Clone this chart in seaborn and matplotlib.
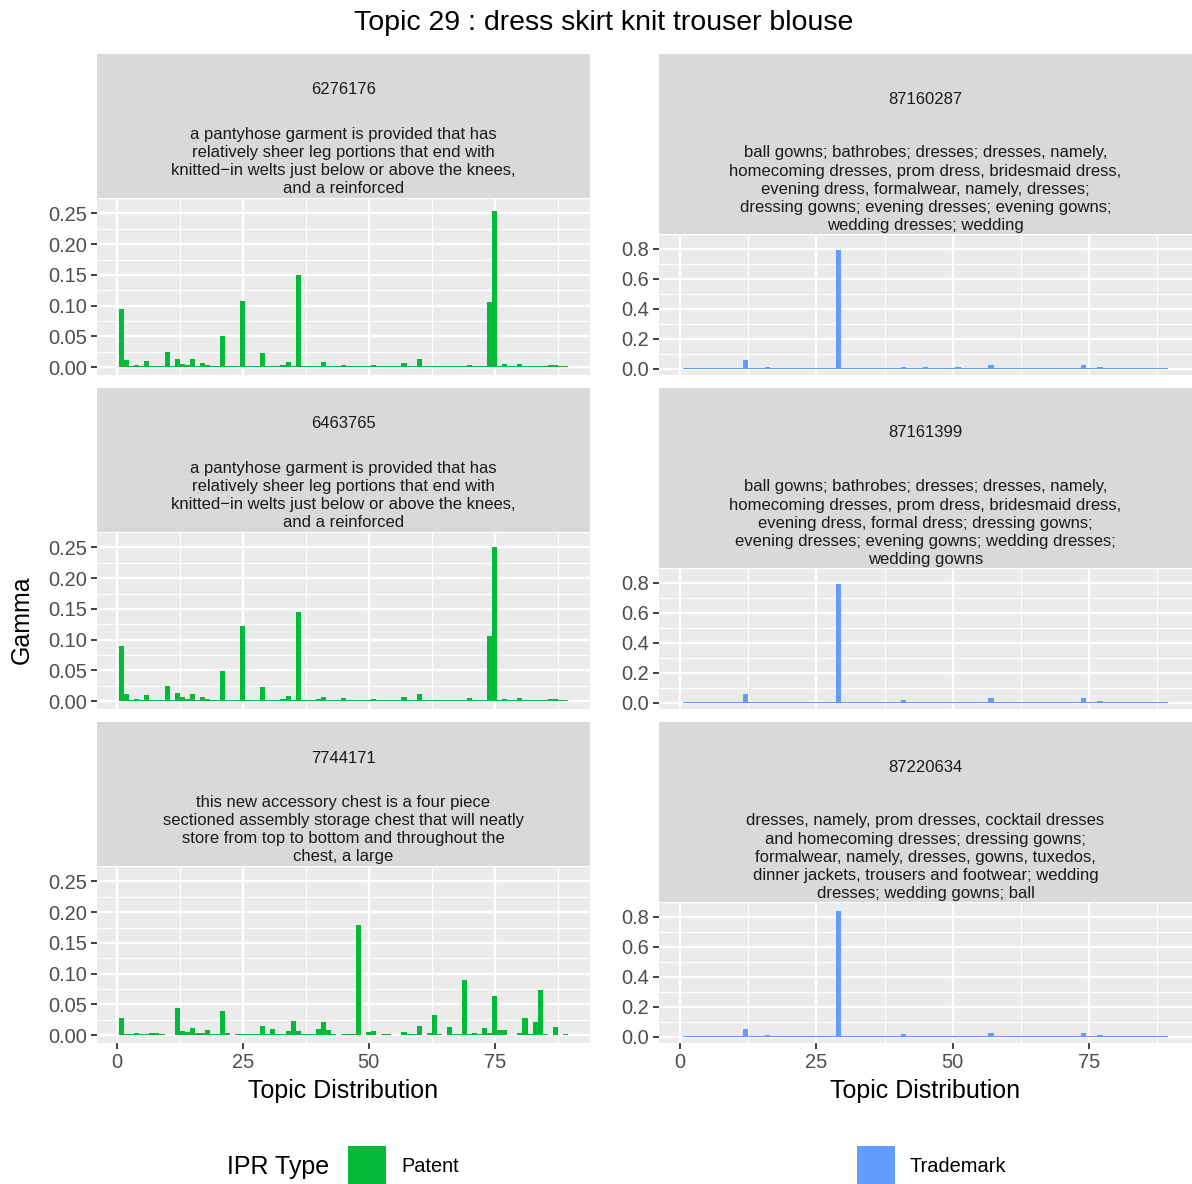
import numpy as np
import pandas as pd
import matplotlib
matplotlib.use('Agg')
import matplotlib.pyplot as plt
from matplotlib.patches import Rectangle
from matplotlib.ticker import FormatStrFormatter
import seaborn as sns

# topic ids 1..89
topics = list(range(1, 90))

# patent 6276176
gamma_6276176 = [
    0.094, 0.012, 0.0012, 0.004, 0.0012, 0.0105, 0.0012, 0.0012, 0.0012, 0.0246,
    0.0012, 0.0136, 0.0058, 0.004, 0.0136, 0.0012, 0.0073, 0.004, 0.0012, 0.0012,
    0.0513, 0.0026, 0.0012, 0.0012, 0.108, 0.0012, 0.0012, 0.0026, 0.023, 0.0012,
    0.0012, 0.0012, 0.004, 0.009, 0.0012, 0.150, 0.0026, 0.0026, 0.0012, 0.0026,
    0.009, 0.0012, 0.0012, 0.0012, 0.004, 0.0012, 0.0012, 0.0012, 0.0012, 0.0012,
    0.004, 0.0012, 0.0012, 0.0012, 0.0012, 0.0012, 0.0073, 0.0012, 0.0012, 0.0136,
    0.0012, 0.0012, 0.0026, 0.0012, 0.0012, 0.0012, 0.0026, 0.0012, 0.0012, 0.004,
    0.0026, 0.0012, 0.0012, 0.106, 0.254, 0.0012, 0.0058, 0.0012, 0.0012, 0.0058,
    0.0012, 0.0012, 0.0026, 0.0012, 0.0012, 0.004, 0.004, 0.0012, 0.0012]

# patent 6463765
gamma_6463765 = [
    0.090, 0.0115, 0.0012, 0.0037, 0.0012, 0.010, 0.0012, 0.0012, 0.0012, 0.024,
    0.0012, 0.013, 0.0068, 0.0037, 0.0115, 0.0012, 0.0068, 0.0037, 0.0012, 0.0012,
    0.049, 0.002, 0.0012, 0.0012, 0.123, 0.0012, 0.0012, 0.002, 0.0225, 0.0012,
    0.0012, 0.0012, 0.0037, 0.0084, 0.0012, 0.145, 0.002, 0.002, 0.0012, 0.0037,
    0.0068, 0.0012, 0.0012, 0.0012, 0.0052, 0.0012, 0.0012, 0.0012, 0.0012, 0.0012,
    0.0037, 0.0012, 0.0012, 0.0012, 0.0012, 0.0012, 0.0068, 0.0012, 0.0012, 0.0115,
    0.0012, 0.0012, 0.002, 0.0012, 0.0012, 0.0012, 0.002, 0.0012, 0.0012, 0.0052,
    0.002, 0.0012, 0.0012, 0.106, 0.250, 0.0012, 0.0037, 0.0012, 0.0012, 0.0052,
    0.0012, 0.0012, 0.002, 0.0012, 0.0012, 0.0037, 0.0037, 0.0012, 0.0012]

# patent 7744171
gamma_7744171 = [
    0.028, 0.0026, 0.0012, 0.004, 0.0026, 0.0026, 0.004, 0.004, 0.0012, 0.0008,
    0.0008, 0.0435, 0.0073, 0.0058, 0.012, 0.004, 0.004, 0.0089, 0.0012, 0.0026,
    0.0388, 0.004, 0.0008, 0.0012, 0.0026, 0.0012, 0.0012, 0.0012, 0.015, 0.0012,
    0.0105, 0.0012, 0.0026, 0.0073, 0.023, 0.0073, 0.0026, 0.0012, 0.0026, 0.0105,
    0.0215, 0.0089, 0.0012, 0.0008, 0.0026, 0.0012, 0.0026, 0.179, 0.0008, 0.0058,
    0.0073, 0.0008, 0.0026, 0.0012, 0.0008, 0.0008, 0.0058, 0.0026, 0.0012, 0.015,
    0.0008, 0.004, 0.0325, 0.0012, 0.0008, 0.0136, 0.0012, 0.0026, 0.089, 0.0026,
    0.004, 0.0012, 0.012, 0.004, 0.064, 0.0089, 0.0089, 0.0008, 0.0008, 0.004,
    0.028, 0.0012, 0.0215, 0.073, 0.0026, 0.0008, 0.0136, 0.0008, 0.0026]

# trademark 87160287
gamma_87160287 = [
    0.003, 0.003, 0.003, 0.003, 0.003, 0.003, 0.003, 0.003, 0.003, 0.003,
    0.003, 0.059, 0.003, 0.003, 0.003, 0.009, 0.006, 0.003, 0.003, 0.003,
    0.003, 0.003, 0.003, 0.003, 0.003, 0.003, 0.003, 0.003, 0.794, 0.003,
    0.003, 0.003, 0.003, 0.003, 0.003, 0.003, 0.003, 0.003, 0.003, 0.003,
    0.013, 0.003, 0.003, 0.003, 0.009, 0.003, 0.003, 0.003, 0.003, 0.003,
    0.009, 0.003, 0.003, 0.003, 0.003, 0.003, 0.026, 0.003, 0.003, 0.003,
    0.003, 0.003, 0.003, 0.003, 0.003, 0.003, 0.003, 0.003, 0.003, 0.003,
    0.003, 0.003, 0.003, 0.026, 0.003, 0.003, 0.009, 0.003, 0.003, 0.003,
    0.003, 0.003, 0.003, 0.003, 0.003, 0.003, 0.003, 0.003, 0.003]

# trademark 87161399
gamma_87161399 = [
    0.003, 0.003, 0.003, 0.003, 0.003, 0.006, 0.003, 0.003, 0.003, 0.003,
    0.003, 0.059, 0.003, 0.003, 0.003, 0.006, 0.006, 0.003, 0.003, 0.003,
    0.003, 0.003, 0.003, 0.003, 0.003, 0.003, 0.003, 0.006, 0.794, 0.003,
    0.003, 0.003, 0.003, 0.003, 0.003, 0.003, 0.003, 0.003, 0.003, 0.003,
    0.0195, 0.003, 0.003, 0.003, 0.006, 0.003, 0.003, 0.003, 0.003, 0.003,
    0.006, 0.003, 0.003, 0.003, 0.003, 0.003, 0.0325, 0.003, 0.003, 0.003,
    0.003, 0.003, 0.003, 0.003, 0.003, 0.003, 0.003, 0.003, 0.003, 0.003,
    0.003, 0.003, 0.003, 0.0325, 0.003, 0.003, 0.013, 0.003, 0.003, 0.003,
    0.003, 0.003, 0.003, 0.003, 0.003, 0.003, 0.003, 0.003, 0.003]

# trademark 87220634
gamma_87220634 = [
    0.003, 0.006, 0.003, 0.006, 0.003, 0.003, 0.006, 0.003, 0.006, 0.006,
    0.003, 0.052, 0.003, 0.003, 0.003, 0.013, 0.003, 0.003, 0.003, 0.003,
    0.006, 0.003, 0.003, 0.006, 0.003, 0.003, 0.006, 0.006, 0.840, 0.003,
    0.003, 0.003, 0.003, 0.003, 0.003, 0.003, 0.003, 0.006, 0.003, 0.006,
    0.0195, 0.003, 0.003, 0.003, 0.006, 0.003, 0.003, 0.003, 0.003, 0.003,
    0.006, 0.003, 0.003, 0.003, 0.003, 0.003, 0.026, 0.003, 0.003, 0.006,
    0.003, 0.006, 0.003, 0.003, 0.003, 0.006, 0.003, 0.003, 0.003, 0.003,
    0.003, 0.006, 0.003, 0.026, 0.003, 0.003, 0.013, 0.003, 0.003, 0.003,
    0.003, 0.003, 0.003, 0.006, 0.003, 0.003, 0.003, 0.006, 0.003]

patent_ids = ['6276176', '6463765', '7744171']
patent_text = [
    ['a pantyhose garment is provided that has',
     'relatively sheer leg portions that end with',
     'knitted\u2212in welts just below or above the knees,',
     'and a reinforced'],
    ['a pantyhose garment is provided that has',
     'relatively sheer leg portions that end with',
     'knitted\u2212in welts just below or above the knees,',
     'and a reinforced'],
    ['this new accessory chest is a four piece',
     'sectioned assembly storage chest that will neatly',
     'store from top to bottom and throughout the',
     'chest, a large'],
]
trademark_ids = ['87160287', '87161399', '87220634']
trademark_text = [
    ['ball gowns; bathrobes; dresses; dresses, namely,',
     'homecoming dresses, prom dress, bridesmaid dress,',
     'evening dress, formalwear, namely, dresses;',
     'dressing gowns; evening dresses; evening gowns;',
     'wedding dresses; wedding'],
    ['ball gowns; bathrobes; dresses; dresses, namely,',
     'homecoming dresses, prom dress, bridesmaid dress,',
     'evening dress, formal dress; dressing gowns;',
     'evening dresses; evening gowns; wedding dresses;',
     'wedding gowns'],
    ['dresses, namely, prom dresses, cocktail dresses',
     'and homecoming dresses; dressing gowns;',
     'formalwear, namely, dresses, gowns, tuxedos,',
     'dinner jackets, trousers and footwear; wedding',
     'dresses; wedding gowns; ball'],
]
patent_series = [gamma_6276176, gamma_6463765, gamma_7744171]
trademark_series = [gamma_87160287, gamma_87161399, gamma_87220634]

patent_color = '#00BA38'
trademark_color = '#619CFF'

sns.set_theme(style='darkgrid', rc={
    'axes.facecolor': '#EBEBEB',
    'grid.color': 'white',
    'xtick.bottom': True,
    'ytick.left': True,
})
plt.rcParams['font.family'] = ['Liberation Sans', 'DejaVu Sans']

W, H = 1192, 1184
fig = plt.figure(figsize=(W / 100, H / 100), dpi=100)
fig.patch.set_facecolor('white')


def box(x0, y0, x1, y1):
    # pixel box (top-left origin) -> figure fraction rect
    return [x0 / W, 1 - y1 / H, (x1 - x0) / W, (y1 - y0) / H]


rows_y = [54, 388, 722]


def draw_column(series, ids, texts, color, x0, x1, strip_h, yticks, yfmt,
                id_off, body_off):
    ymax = max(max(s) for s in series)
    for r, (vals, pid, lines) in enumerate(zip(series, ids, texts)):
        top = rows_y[r]
        strip_bot = top + strip_h
        plot_bot = top + 321
        ax = fig.add_axes(box(x0, strip_bot, x1, plot_bot))
        df = pd.DataFrame({'topic': topics, 'gamma': vals})
        sns.barplot(data=df, x='topic', y='gamma', native_scale=True,
                    width=1.0, color=color, saturation=1, linewidth=0, ax=ax)
        ax.set_xlim(0.55 - 0.05 * 88.9, 89.45 + 0.05 * 88.9)
        ax.set_ylim(-0.05 * ymax, 1.05 * ymax)
        ax.set_xticks([0, 25, 50, 75])
        ax.set_xticks([12.5, 37.5, 62.5, 87.5], minor=True)
        ax.set_yticks(yticks)
        step = yticks[1] - yticks[0]
        ax.set_yticks([t + step / 2 for t in yticks], minor=True)
        ax.yaxis.set_major_formatter(FormatStrFormatter(yfmt))
        ax.grid(which='major', color='white', lw=1.7)
        ax.grid(which='minor', color='white', lw=0.8)
        ax.set_axisbelow(True)
        for s in ax.spines.values():
            s.set_visible(False)
        ax.tick_params(which='major', length=4.3, width=1.3, color='#333333',
                       labelsize=14.4, labelcolor='#4D4D4D', pad=3)
        ax.tick_params(which='minor', length=0)
        if r < 2:
            ax.tick_params(axis='x', which='both', bottom=False, labelbottom=False)
        ax.set_xlabel('')
        ax.set_ylabel('')

        sx = fig.add_axes(box(x0, top, x1, strip_bot))
        sx.set_facecolor('#D9D9D9')
        sx.set_xticks([])
        sx.set_yticks([])
        sx.grid(False)
        for s in sx.spines.values():
            s.set_visible(False)
        sx.set_xlim(0, 1)
        sx.set_ylim(strip_h, 0)
        sx.text(0.5, id_off, pid, ha='center', va='center', fontsize=12,
                color='#1A1A1A', clip_on=True)
        for i, line in enumerate(lines):
            sx.text(0.5, body_off + i * 18.2, line, ha='center', va='center',
                    fontsize=12, color='#1A1A1A', clip_on=True)


draw_column(patent_series, patent_ids, patent_text, patent_color, 97, 590, 144,
            [0.0, 0.05, 0.10, 0.15, 0.20, 0.25], '%.2f', 36, 80)
draw_column(trademark_series, trademark_ids, trademark_text, trademark_color,
            659, 1192, 180, [0.0, 0.2, 0.4, 0.6, 0.8], '%.1f', 45, 99)

fig.text(604 / W, 1 - 23 / H, 'Topic 29 : dress skirt knit trouser blouse',
         ha='center', va='center', fontsize=20.5, color='black')
fig.text(343.5 / W, 1 - 1091 / H, 'Topic Distribution', ha='center',
         va='center', fontsize=18, color='black')
fig.text(925 / W, 1 - 1091 / H, 'Topic Distribution', ha='center',
         va='center', fontsize=18, color='black')
fig.text(22 / W, 1 - 620 / H, 'Gamma', ha='center', va='center', rotation=90,
         fontsize=18, color='black')

# legend
fig.text(227 / W, 1 - 1167 / H, 'IPR Type', ha='left', va='center',
         fontsize=18, color='black')
for (lx, label, col) in [(348, 'Patent', patent_color),
                         (857, 'Trademark', trademark_color)]:
    fig.add_artist(Rectangle((lx / W, 1 - 1186 / H), 38 / W, 40 / H,
                             transform=fig.transFigure, facecolor=col,
                             edgecolor='none'))
    fig.text((lx + 53) / W, 1 - 1167 / H, label, ha='left', va='center',
             fontsize=14.4, color='black')

fig.savefig('out.png', dpi=100)
